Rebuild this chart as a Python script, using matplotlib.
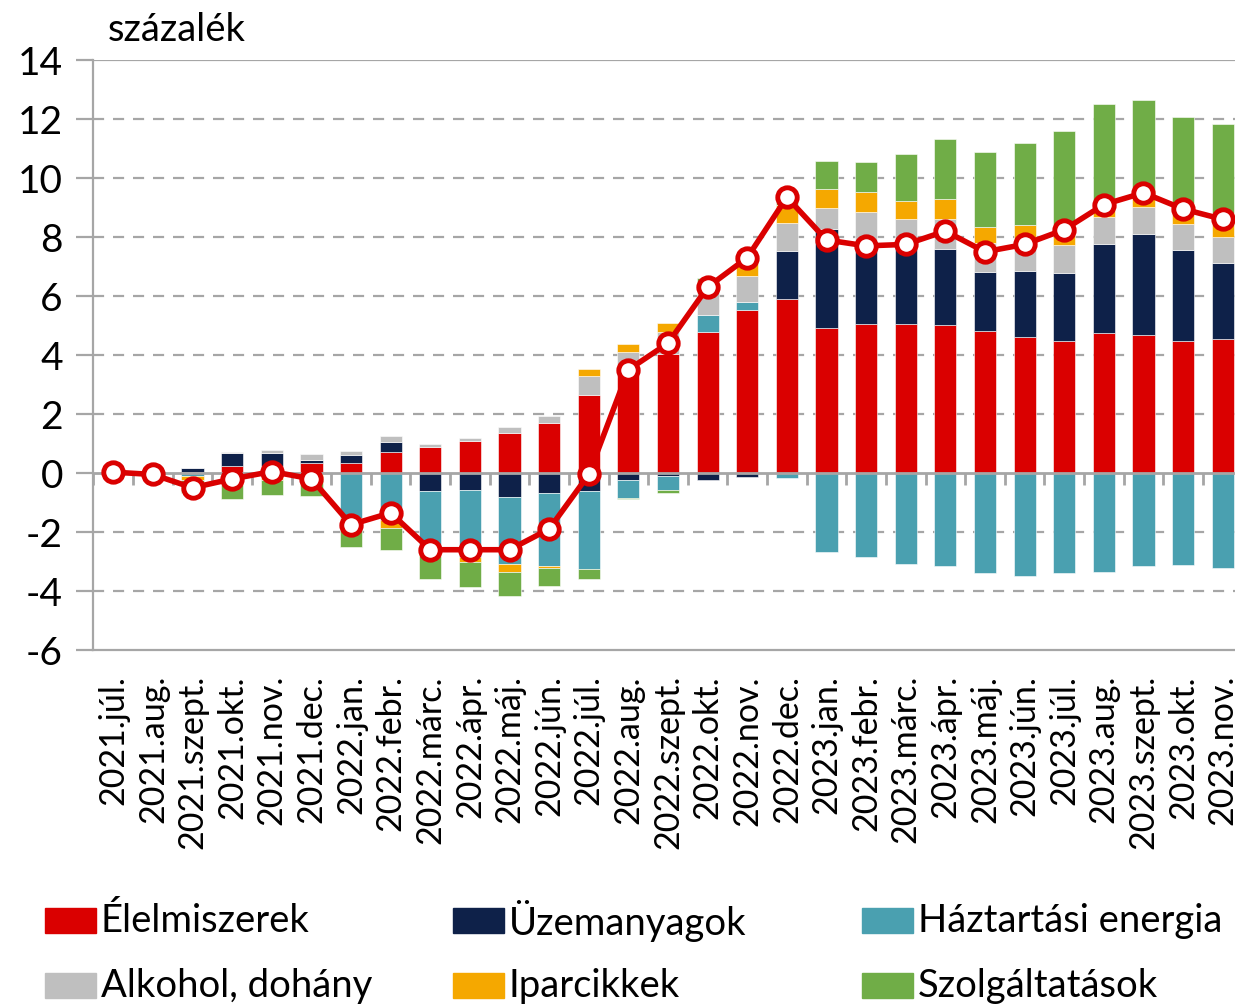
import numpy as np
import matplotlib
matplotlib.use("Agg")
import matplotlib.pyplot as plt
from matplotlib.patches import Rectangle

plt.rcParams['font.family'] = ['Lato', 'DejaVu Sans']
plt.rcParams['axes.unicode_minus'] = False

months = ["2021.júl.", "2021.aug.", "2021.szept.", "2021.okt.", "2021.nov.", "2021.dec.",
          "2022.jan.", "2022.febr.", "2022.márc.", "2022.ápr.", "2022.máj.", "2022.jún.",
          "2022.júl.", "2022.aug.", "2022.szept.", "2022.okt.", "2022.nov.", "2022.dec.",
          "2023.jan.", "2023.febr.", "2023.márc.", "2023.ápr.", "2023.máj.", "2023.jún.",
          "2023.júl.", "2023.aug.", "2023.szept.", "2023.okt.", "2023.nov."]

elelmiszer = [0.02, 0.03, 0.05, 0.25, 0.25, 0.34, 0.35, 0.72, 0.88, 1.08, 1.35, 1.7, 2.65, 3.32, 4.03,
              4.78, 5.53, 5.9, 4.92, 5.05, 5.05, 5.02, 4.81, 4.61, 4.47, 4.75, 4.68, 4.47, 4.54]
uzemanyag = [0.08, 0.1, 0.12, 0.42, 0.44, 0.1, 0.25, 0.32, -0.6, -0.58, -0.8, -0.67, -0.6, -0.25, -0.1,
             -0.25, -0.15, 1.63, 3.35, 2.81, 2.6, 2.57, 2.0, 2.24, 2.31, 3.01, 3.42, 3.09, 2.58]
energia = [0, 0, -0.1, 0, 0, 0, -1.53, -1.6, -1.9, -2.27, -2.3, -2.48, -2.66, -0.6, -0.47,
           0.58, 0.27, -0.17, -2.68, -2.85, -3.08, -3.15, -3.39, -3.49, -3.39, -3.36, -3.15, -3.12, -3.22]
alkohol = [0, 0, 0, 0.05, 0.09, 0.2, 0.14, 0.21, 0.09, 0.12, 0.2, 0.23, 0.63, 0.78, 0.75,
           0.8, 0.88, 0.94, 0.71, 0.99, 0.95, 1.02, 1.0, 1.0, 0.95, 0.92, 0.92, 0.88, 0.88]
iparcikk = [0, 0, -0.15, -0.4, -0.25, -0.25, -0.3, -0.27, -0.3, -0.15, -0.25, -0.07, 0.24, 0.27, 0.3,
            0.31, 0.51, 0.61, 0.65, 0.68, 0.61, 0.68, 0.53, 0.56, 0.57, 0.55, 0.57, 0.71, 0.81]
szolgaltatas = [-0.05, 0, -0.43, -0.48, -0.5, -0.53, -0.67, -0.75, -0.8, -0.85, -0.82, -0.61, -0.34, -0.03, -0.1,
                0.14, 0.23, 0.48, 0.95, 1.01, 1.59, 2.03, 2.54, 2.78, 3.29, 3.28, 3.05, 2.92, 3.02]
osszesen = [0.03, -0.05, -0.5, -0.2, 0.05, -0.2, -1.75, -1.35, -2.6, -2.6, -2.6, -1.9, -0.05, 3.5, 4.4,
            6.3, 7.3, 9.35, 7.9, 7.7, 7.75, 8.2, 7.5, 7.75, 8.25, 9.1, 9.5, 8.95, 8.6]

series = [("Élelmiszerek", elelmiszer, "#DA0000"),
          ("Üzemanyagok", uzemanyag, "#0E2149"),
          ("Háztartási energia", energia, "#4AA0B0"),
          ("Alkohol, dohány", alkohol, "#BFBFBF"),
          ("Iparcikkek", iparcikk, "#F5A800"),
          ("Szolgáltatások", szolgaltatas, "#70AD47")]

fig = plt.figure(figsize=(12.35, 10.07), dpi=100)
ax = fig.add_axes([0.0757, 0.3545, 0.9304, 0.5859])

x = np.arange(len(months))
pos = np.zeros(len(months))
neg = np.zeros(len(months))
for name, vals, col in series:
    v = np.array(vals)
    bottom = np.where(v >= 0, pos, neg)
    ax.bar(x, v, 0.56, bottom=bottom, color=col, edgecolor="white", linewidth=0.4, zorder=3)
    pos += np.where(v >= 0, v, 0)
    neg += np.where(v < 0, v, 0)

ax.plot(x, osszesen, color="#DA0000", lw=4, marker="o", ms=14, mfc="white", mec="#DA0000", mew=3.5, zorder=5)

ax.set_xlim(-0.5, len(months) - 0.5)
ax.set_ylim(-6, 14)
ax.set_yticks(np.arange(-6, 15, 2))
for yv in range(-4, 14, 2):
    if yv != 0:
        ax.axhline(yv, color="#A6A6A6", lw=1.6, ls=(0, (5, 4)), zorder=1)
ax.axhline(14, color="#A6A6A6", lw=1.6, zorder=1)
ax.axhline(0, color="#A6A6A6", lw=2, zorder=4)
# category tick marks on the zero line
ax.vlines(np.arange(len(months) + 1) - 0.5, -0.42, 0, color="#A6A6A6", lw=2, zorder=4)

for s in ["top", "right"]:
    ax.spines[s].set_visible(False)
ax.spines["left"].set_color("#A6A6A6")
ax.spines["left"].set_linewidth(1.6)
ax.spines["bottom"].set_color("#A6A6A6")
ax.spines["bottom"].set_linewidth(1.6)
ax.tick_params(axis="y", labelsize=28, length=12, width=1.6, color="#A6A6A6", pad=10)
ax.set_xticks(x)
ax.set_xticklabels(months, rotation=90, fontsize=24.5)
ax.tick_params(axis="x", length=0, pad=18)

fig.text(0.087, 0.97, "százalék", fontsize=27.5, ha="left", va="center")

cols = [45, 453, 862]
rows = [921, 986]
for i, (name, vals, col) in enumerate(series):
    cx = cols[i % 3]
    cy = rows[i // 3]
    fig.patches.append(Rectangle((cx / 1235, 1 - (cy + 12) / 1007), 51 / 1235, 25 / 1007,
                                 transform=fig.transFigure, color=col))
    fig.text((cx + 56) / 1235, 1 - cy / 1007, name, fontsize=27.5, ha="left", va="center")

fig.savefig("out.png", dpi=100)
